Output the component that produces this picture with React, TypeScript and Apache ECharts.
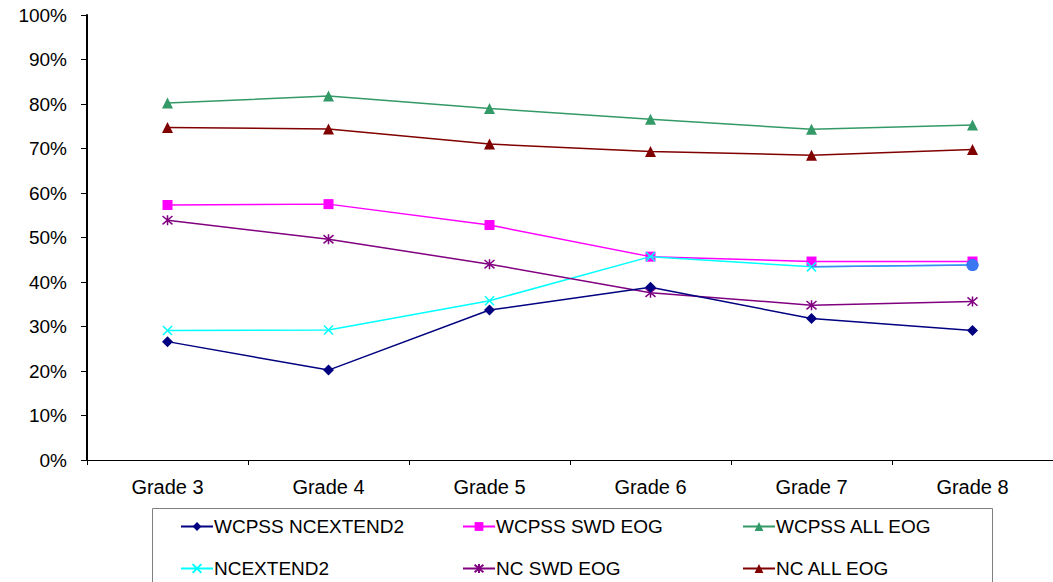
import React, { useEffect, useRef } from "react";
import * as echarts from "echarts";

const categories = ["Grade 3", "Grade 4", "Grade 5", "Grade 6", "Grade 7", "Grade 8"];
const yTicks = [0, 10, 20, 30, 40, 50, 60, 70, 80, 90, 100];

const wcpssNcextend2 = [26.6, 20.2, 33.7, 38.8, 31.8, 29.1];
const wcpssSwdEog = [57.3, 57.5, 52.8, 45.7, 44.6, 44.6];
const wcpssAllEog = [80.2, 81.8, 79.0, 76.6, 74.3, 75.3];
const ncextend2 = [29.1, 29.2, 35.8, 45.7, 43.4, 43.8];
const ncSwdEog = [53.9, 49.6, 44.0, 37.6, 34.8, 35.6];
const ncAllEog = [74.7, 74.4, 71.0, 69.3, 68.5, 69.8];

const FONT = "'Liberation Sans', Arial, sans-serif";
const X_SYM = "path://M0,0L10,10M10,0L0,10";
const STAR_SYM = "path://M0,0L10,10M10,0L0,10M5,-1L5,11";

export default function App() {
  const ref = useRef<HTMLDivElement>(null);
  useEffect(() => {
    if (!ref.current) return;
    const chart = echarts.init(ref.current, null, { renderer: "svg" });
    const mkLegend = (name: string, left: number, top: number) => ({
      show: true,
      data: [name],
      left,
      top,
      orient: "horizontal",
      itemWidth: 32,
      itemHeight: 11,
      itemGap: 4,
      selectedMode: false,
      textStyle: { fontFamily: FONT, fontSize: 19, color: "#000", padding: [0, 0, 0, -4] },
    });
    const ncext2Data: any[] = ncextend2.map((v, i) =>
      i === ncextend2.length - 1
        ? { value: v, symbol: "circle", symbolSize: 12, itemStyle: { color: "#3a78f2", borderWidth: 0 } }
        : v
    );
    const endSeg: any[] = ncextend2.map((v, i) =>
      i >= ncextend2.length - 2 ? v : null
    );
    endSeg[endSeg.length - 1] = {
      value: ncextend2[ncextend2.length - 1],
      symbol: "circle",
      symbolSize: 12,
      itemStyle: { color: "#3a78f2", borderWidth: 0 },
    };
    chart.setOption({
      animation: false,
      backgroundColor: "#fff",
      grid: { left: 87, top: 15, right: 0, bottom: 122, containLabel: false },
      legend: [
        mkLegend("WCPSS NCEXTEND2", 175, 512),
        mkLegend("WCPSS SWD EOG", 457, 512),
        mkLegend("WCPSS ALL EOG", 737, 512),
        mkLegend("NCEXTEND2", 175, 554),
        mkLegend("NC SWD EOG", 457, 554),
        mkLegend("NC ALL EOG", 737, 554),
      ],
      graphic: [
        {
          type: "rect",
          shape: { x: 152.5, y: 508.5, width: 840, height: 90 },
          style: { fill: "none", stroke: "#808080", lineWidth: 1 },
          silent: true,
        },
      ],
      xAxis: {
        type: "category",
        data: categories,
        boundaryGap: true,
        axisLine: { show: true, lineStyle: { color: "#000", width: 1 } },
        axisTick: { show: true, alignWithLabel: false, length: 5, lineStyle: { color: "#000" } },
        axisLabel: { fontFamily: FONT, fontSize: 20, color: "#000", margin: 17 },
        splitLine: { show: false },
      },
      yAxis: {
        type: "value",
        min: yTicks[0],
        max: yTicks[yTicks.length - 1],
        interval: 10,
        axisLine: { show: true, lineStyle: { color: "#000", width: 2 } },
        axisTick: { show: true, length: 6, lineStyle: { color: "#000", width: 1 } },
        axisLabel: { fontFamily: FONT, fontSize: 19, color: "#000", margin: 20, formatter: "{value}%" },
        splitLine: { show: false },
      },
      series: [
        {
          name: "WCPSS NCEXTEND2",
          type: "line",
          data: wcpssNcextend2,
          symbol: "diamond",
          symbolSize: 11,
          color: "#000080",
          lineStyle: { color: "#000080", width: 1.5 },
          itemStyle: { color: "#000080" },
          z: 7,
        },
        {
          name: "WCPSS SWD EOG",
          type: "line",
          data: wcpssSwdEog,
          symbol: "rect",
          symbolSize: 10,
          color: "#ff00ff",
          lineStyle: { color: "#ff00ff", width: 1.5 },
          itemStyle: { color: "#ff00ff" },
          z: 3,
        },
        {
          name: "WCPSS ALL EOG",
          type: "line",
          data: wcpssAllEog,
          symbol: "triangle",
          symbolSize: 11,
          color: "#339966",
          lineStyle: { color: "#339966", width: 1.5 },
          itemStyle: { color: "#339966" },
          z: 3,
        },
        {
          name: "NCEXTEND2",
          type: "line",
          data: ncext2Data,
          symbol: X_SYM,
          symbolSize: 9,
          color: "#00ffff",
          lineStyle: { color: "#00ffff", width: 1.5 },
          itemStyle: { color: "none", borderColor: "#00ffff", borderWidth: 1.5 },
          z: 4,
        },
        {
          name: "NC SWD EOG",
          type: "line",
          data: ncSwdEog,
          symbol: STAR_SYM,
          symbolSize: 10,
          color: "#800080",
          lineStyle: { color: "#800080", width: 1.5 },
          itemStyle: { color: "none", borderColor: "#800080", borderWidth: 1.5 },
          z: 5,
        },
        {
          name: "NC ALL EOG",
          type: "line",
          data: ncAllEog,
          symbol: "triangle",
          symbolSize: 11,
          color: "#800000",
          lineStyle: { color: "#800000", width: 1.5 },
          itemStyle: { color: "#800000" },
          z: 3,
        },
        {
          name: "NCEXTEND2 end",
          type: "line",
          data: endSeg,
          symbol: "none",
          showSymbol: true,
          color: "#3a78f2",
          lineStyle: { color: "#4a80f0", width: 1.5 },
          itemStyle: { color: "#3a78f2" },
          connectNulls: false,
          z: 6,
        },
      ],
    });
    return () => chart.dispose();
  }, []);
  return (
    <div
      ref={ref}
      style={{ position: "fixed", left: 0, top: 0, width: 1053, height: 582 }}
    />
  );
}
